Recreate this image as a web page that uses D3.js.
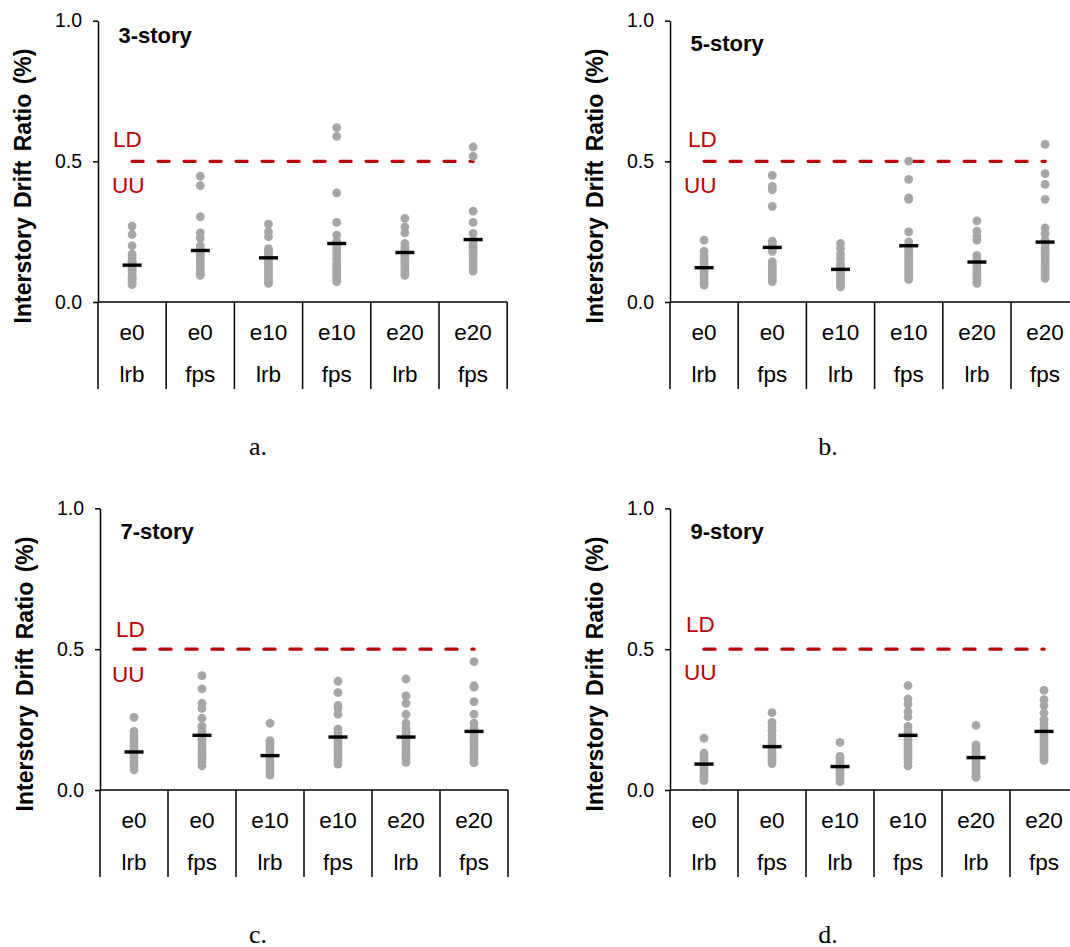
<!DOCTYPE html>
<html>
<head>
<meta charset="utf-8">
<script src="https://cdn.jsdelivr.net/npm/d3@7"></script>
<style>
  body { margin: 0; background: #fff; }
  svg { display: block; }
</style>
</head>
<body>
<div id="chart"></div>
<script>
// categories along the x axis (two rows of labels)
const categories = ["e0", "e0", "e10", "e10", "e20", "e20"];
const systems = ["lrb", "fps", "lrb", "fps", "lrb", "fps"];
const yTicks = [0, 0.5, 1.0];
const limitValue = 0.5;

// 3-story
const dots3 = [
  [0.27, 0.24, 0.20, 0.17, 0.16, 0.15, 0.145, 0.14, 0.13, 0.12, 0.115, 0.11, 0.10, 0.09, 0.085, 0.08, 0.07, 0.062],
  [0.447, 0.414, 0.303, 0.246, 0.227, 0.20, 0.19, 0.18, 0.17, 0.16, 0.15, 0.14, 0.13, 0.12, 0.11, 0.10, 0.095],
  [0.277, 0.249, 0.232, 0.19, 0.18, 0.17, 0.16, 0.15, 0.14, 0.13, 0.12, 0.11, 0.10, 0.09, 0.08, 0.072, 0.066],
  [0.62, 0.589, 0.388, 0.283, 0.238, 0.215, 0.20, 0.185, 0.17, 0.155, 0.14, 0.13, 0.12, 0.11, 0.10, 0.09, 0.08, 0.072],
  [0.297, 0.267, 0.246, 0.208, 0.195, 0.185, 0.175, 0.165, 0.155, 0.145, 0.135, 0.125, 0.115, 0.105, 0.095],
  [0.551, 0.518, 0.323, 0.283, 0.244, 0.22, 0.21, 0.20, 0.19, 0.18, 0.17, 0.16, 0.15, 0.14, 0.13, 0.12, 0.11]
];
const mean3 = [0.131, 0.183, 0.157, 0.208, 0.176, 0.222];

// 5-story
const dots5 = [
  [0.220, 0.181, 0.163, 0.15, 0.14, 0.13, 0.12, 0.11, 0.10, 0.09, 0.08, 0.07, 0.06],
  [0.450, 0.411, 0.399, 0.340, 0.216, 0.205, 0.19, 0.18, 0.143, 0.13, 0.12, 0.11, 0.10, 0.09, 0.08, 0.072],
  [0.208, 0.19, 0.17, 0.155, 0.14, 0.13, 0.12, 0.11, 0.10, 0.09, 0.08, 0.07, 0.06, 0.054],
  [0.501, 0.436, 0.370, 0.365, 0.249, 0.214, 0.20, 0.19, 0.18, 0.17, 0.16, 0.15, 0.14, 0.13, 0.12, 0.11, 0.10, 0.09, 0.08],
  [0.288, 0.252, 0.234, 0.22, 0.166, 0.155, 0.145, 0.135, 0.125, 0.115, 0.105, 0.095, 0.085, 0.075, 0.066],
  [0.560, 0.456, 0.418, 0.365, 0.263, 0.243, 0.22, 0.21, 0.20, 0.19, 0.18, 0.17, 0.16, 0.15, 0.14, 0.13, 0.12, 0.11, 0.10, 0.09, 0.084]
];
const mean5 = [0.122, 0.194, 0.116, 0.200, 0.142, 0.213];

// 7-story
const dots7 = [
  [0.258, 0.208, 0.195, 0.185, 0.175, 0.165, 0.155, 0.145, 0.135, 0.125, 0.115, 0.105, 0.095, 0.085, 0.071],
  [0.406, 0.359, 0.308, 0.29, 0.255, 0.226, 0.21, 0.20, 0.19, 0.18, 0.17, 0.16, 0.15, 0.14, 0.13, 0.12, 0.11, 0.10, 0.086],
  [0.237, 0.175, 0.165, 0.155, 0.145, 0.135, 0.125, 0.115, 0.105, 0.095, 0.085, 0.075, 0.065, 0.053],
  [0.386, 0.346, 0.300, 0.29, 0.269, 0.216, 0.205, 0.195, 0.185, 0.175, 0.165, 0.155, 0.145, 0.135, 0.125, 0.115, 0.105, 0.092],
  [0.394, 0.334, 0.308, 0.268, 0.237, 0.22, 0.21, 0.20, 0.19, 0.18, 0.17, 0.16, 0.15, 0.14, 0.13, 0.12, 0.11, 0.098],
  [0.456, 0.370, 0.365, 0.314, 0.269, 0.237, 0.22, 0.21, 0.20, 0.19, 0.18, 0.17, 0.16, 0.15, 0.14, 0.13, 0.12, 0.11, 0.097]
];
const mean7 = [0.135, 0.194, 0.122, 0.188, 0.188, 0.208];

// 9-story
const dots9 = [
  [0.184, 0.131, 0.12, 0.11, 0.10, 0.09, 0.08, 0.07, 0.06, 0.05, 0.04, 0.033],
  [0.275, 0.240, 0.225, 0.21, 0.195, 0.178, 0.165, 0.155, 0.145, 0.135, 0.125, 0.115, 0.105, 0.094],
  [0.169, 0.119, 0.11, 0.10, 0.09, 0.08, 0.07, 0.06, 0.05, 0.04, 0.03],
  [0.371, 0.323, 0.305, 0.278, 0.26, 0.226, 0.21, 0.20, 0.19, 0.18, 0.17, 0.16, 0.15, 0.14, 0.13, 0.12, 0.11, 0.10, 0.086],
  [0.229, 0.160, 0.15, 0.14, 0.13, 0.12, 0.11, 0.10, 0.09, 0.08, 0.07, 0.06, 0.05, 0.045],
  [0.354, 0.321, 0.30, 0.274, 0.25, 0.235, 0.22, 0.21, 0.20, 0.19, 0.18, 0.17, 0.16, 0.15, 0.14, 0.13, 0.12, 0.11, 0.105]
];
const mean9 = [0.092, 0.154, 0.083, 0.194, 0.115, 0.208];

const titles = ["3-story", "5-story", "7-story", "9-story"];
const letters = ["a.", "b.", "c.", "d."];

// layout of the four panels (pixels)
const layout = [
  {left: 98,  top: 20.7,  base: 302, colW: 68.2, titleY: 42.5, ldY: 147,   uuY: 192.5, ldDx: 15, uuDx: 14, letterX: 258},
  {left: 670, top: 20.7,  base: 302, colW: 68.2, titleY: 51,   ldY: 146.7, uuY: 192.7, ldDx: 18, uuDx: 14, letterX: 828},
  {left: 100, top: 508.3, base: 790, colW: 68,   titleY: 539,  ldY: 637,   uuY: 681.7, ldDx: 16, uuDx: 12, letterX: 258},
  {left: 670, top: 508.3, base: 790, colW: 68,   titleY: 539,  ldY: 632,   uuY: 680,   ldDx: 16, uuDx: 14, letterX: 828}
];
const allDots = [dots3, dots5, dots7, dots9];
const allMeans = [mean3, mean5, mean7, mean9];

const red = "#c00000";
const grey = "#a6a6a6";
const sans = "'Liberation Sans', Arial, sans-serif";

var svg = d3.select("#chart")
  .append("svg")
  .attr("width", 1070)
  .attr("height", 947);

for (var p = 0; p < 4; p++) {
  drawPanel(layout[p], allDots[p], allMeans[p], titles[p], letters[p]);
}

function drawPanel(L, dots, means, title, letter) {
  var g = svg.append("g");

  var x = d3.scaleBand()
    .domain(d3.range(categories.length))
    .range([L.left, L.left + L.colW * categories.length]);
  var y = d3.scaleLinear()
    .domain([0, 1])
    .range([L.base, L.top]);
  var bw = x.bandwidth();

  // y axis
  var yAxis = g.append("g")
    .attr("transform", "translate(" + L.left + ",0)")
    .call(d3.axisLeft(y).tickValues(yTicks).tickFormat(d3.format(".1f")).tickSize(5).tickSizeOuter(0).tickPadding(11));
  yAxis.select(".domain").attr("stroke", "#000").attr("stroke-width", 1.5);
  yAxis.selectAll(".tick line").attr("stroke", "#000").attr("stroke-width", 1.5);
  yAxis.selectAll(".tick text")
    .attr("fill", "#000")
    .style("font-family", sans)
    .style("font-size", "19.5px");

  // horizontal base line
  g.append("line")
    .attr("x1", L.left).attr("x2", x.range()[1])
    .attr("y1", y(0)).attr("y2", y(0))
    .attr("stroke", "#000").attr("stroke-width", 1.5);

  // category separators
  var edges = d3.range(categories.length + 1).map(function(i) { return L.left + i * bw; });
  g.selectAll(".sep")
    .data(edges)
    .enter()
    .append("line")
    .attr("x1", function(d) { return d; })
    .attr("x2", function(d) { return d; })
    .attr("y1", y(0))
    .attr("y2", y(0) + 87)
    .attr("stroke", "#000")
    .attr("stroke-width", 1.5);

  // category labels
  g.selectAll(".cat1")
    .data(categories)
    .enter()
    .append("text")
    .attr("x", function(d, i) { return x(i) + bw / 2; })
    .attr("y", y(0) + 38)
    .attr("text-anchor", "middle")
    .style("font-family", sans)
    .style("font-size", "22.5px")
    .text(function(d) { return d; });
  g.selectAll(".cat2")
    .data(systems)
    .enter()
    .append("text")
    .attr("x", function(d, i) { return x(i) + bw / 2; })
    .attr("y", y(0) + 80)
    .attr("text-anchor", "middle")
    .style("font-family", sans)
    .style("font-size", "22.5px")
    .text(function(d) { return d; });

  // limit line
  g.append("line")
    .attr("x1", x(0) + bw / 2)
    .attr("x2", x(categories.length - 1) + bw / 2)
    .attr("y1", y(limitValue))
    .attr("y2", y(limitValue))
    .attr("stroke", red)
    .attr("stroke-width", 3.4)
    .attr("stroke-linecap", "round")
    .attr("stroke-dasharray", "11 15");

  g.append("text")
    .attr("x", L.left + L.ldDx)
    .attr("y", L.ldY)
    .attr("fill", red)
    .style("font-family", sans)
    .style("font-size", "22.5px")
    .text("LD");
  g.append("text")
    .attr("x", L.left + L.uuDx)
    .attr("y", L.uuY)
    .attr("fill", red)
    .style("font-family", sans)
    .style("font-size", "22.5px")
    .text("UU");

  // scatter of drift ratios
  dots.forEach(function(col, i) {
    g.selectAll(".dot" + i)
      .data(col)
      .enter()
      .append("circle")
      .attr("cx", x(i) + bw / 2)
      .attr("cy", function(d) { return y(d); })
      .attr("r", 4.4)
      .attr("fill", grey);
  });

  // means
  g.selectAll(".mean")
    .data(means)
    .enter()
    .append("line")
    .attr("x1", function(d, i) { return x(i) + bw / 2 - 9.5; })
    .attr("x2", function(d, i) { return x(i) + bw / 2 + 9.5; })
    .attr("y1", function(d) { return y(d); })
    .attr("y2", function(d) { return y(d); })
    .attr("stroke", "#000")
    .attr("stroke-width", 3.4);

  // panel title
  g.append("text")
    .attr("x", L.left + 20.5)
    .attr("y", L.titleY)
    .style("font-family", sans)
    .style("font-size", "22px")
    .style("font-weight", "bold")
    .text(title);

  // y axis label
  g.append("text")
    .attr("transform", "translate(" + (L.left - 67) + "," + (y(0) - 116) + ")rotate(-90)")
    .attr("text-anchor", "middle")
    .style("font-family", sans)
    .style("font-size", "23px")
    .style("font-weight", "bold")
    .style("word-spacing", "3px")
    .text("Interstory Drift Ratio (%)");

  // panel letter
  g.append("text")
    .attr("x", L.letterX)
    .attr("y", y(0) + 152.5)
    .attr("text-anchor", "middle")
    .style("font-family", "'Liberation Serif', 'Times New Roman', serif")
    .style("font-size", "26px")
    .text(letter);
}
</script>
</body>
</html>
